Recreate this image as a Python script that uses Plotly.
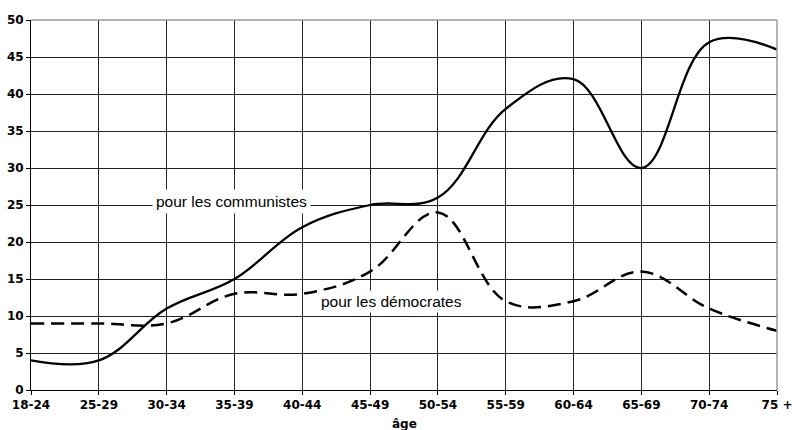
import plotly.graph_objects as go

age_groups = ["18-24", "25-29", "30-34", "35-39", "40-44", "45-49",
              "50-54", "55-59", "60-64", "65-69", "70-74", "75 +"]
communistes = [4, 4, 11, 15, 22, 25, 26, 38, 42, 30, 47, 46]
democrates = [9, 9, 9, 13, 13, 16, 24, 12, 12, 16, 11, 8]
y_ticks = [0, 5, 10, 15, 20, 25, 30, 35, 40, 45, 50]

fig = go.Figure()
fig.add_trace(go.Scatter(
    x=age_groups, y=communistes, mode="lines", name="pour les communistes",
    line=dict(color="black", width=2.3, shape="spline", smoothing=1.1),
))
fig.add_trace(go.Scatter(
    x=age_groups, y=democrates, mode="lines", name="pour les démocrates",
    line=dict(color="black", width=2.5, shape="spline", smoothing=1.1, dash="13px,7px"),
))

tick_font = dict(family="DejaVu Sans", size=12, color="black", weight="bold")

fig.update_layout(
    width=792, height=430,
    margin=dict(l=31, r=15, t=20, b=40),
    paper_bgcolor="white", plot_bgcolor="white",
    showlegend=False,
    xaxis=dict(
        type="category", range=[0, len(age_groups) - 1],
        tickvals=age_groups, ticktext=age_groups,
        showgrid=True, gridcolor="#222", gridwidth=1,
        showline=True, linecolor="black", linewidth=1,
        ticks="outside", ticklen=4, tickcolor="black",
        tickfont=tick_font, automargin=False, ticklabeloverflow="allow",
        zeroline=False,
    ),
    yaxis=dict(
        range=[0, 50], tickvals=y_ticks,
        showgrid=True, gridcolor="#222", gridwidth=1,
        showline=True, linecolor="black", linewidth=1,
        ticks="outside", ticklen=4, tickcolor="black",
        tickfont=tick_font, zeroline=False, automargin=False,
    ),
    shapes=[
        dict(type="line", xref="paper", yref="paper", x0=0, x1=1, y0=1, y1=1,
             line=dict(color="#999", width=1.5), layer="above"),
        dict(type="line", xref="paper", yref="paper", x0=1, x1=1, y0=0, y1=1,
             line=dict(color="#999", width=1.5), layer="above"),
    ],
    annotations=[
        dict(x=2.96, y=25.5, text="pour les communistes", showarrow=False,
             font=dict(family="Liberation Sans", size=15.5, color="black"),
             bgcolor="white", borderpad=3),
        dict(x=5.31, y=11.9, text="pour les démocrates", showarrow=False,
             font=dict(family="Liberation Sans", size=15.5, color="black"),
             bgcolor="white", borderpad=2),
        dict(x=0.5, y=0, xref="paper", yref="paper", yshift=-34, yanchor="middle",
             text="âge", showarrow=False, font=tick_font),
    ],
)

fig.write_html(
    "out.html",
    config={"displayModeBar": False},
    post_script="document.body.style.margin='0';document.body.style.overflow='hidden';",
)
